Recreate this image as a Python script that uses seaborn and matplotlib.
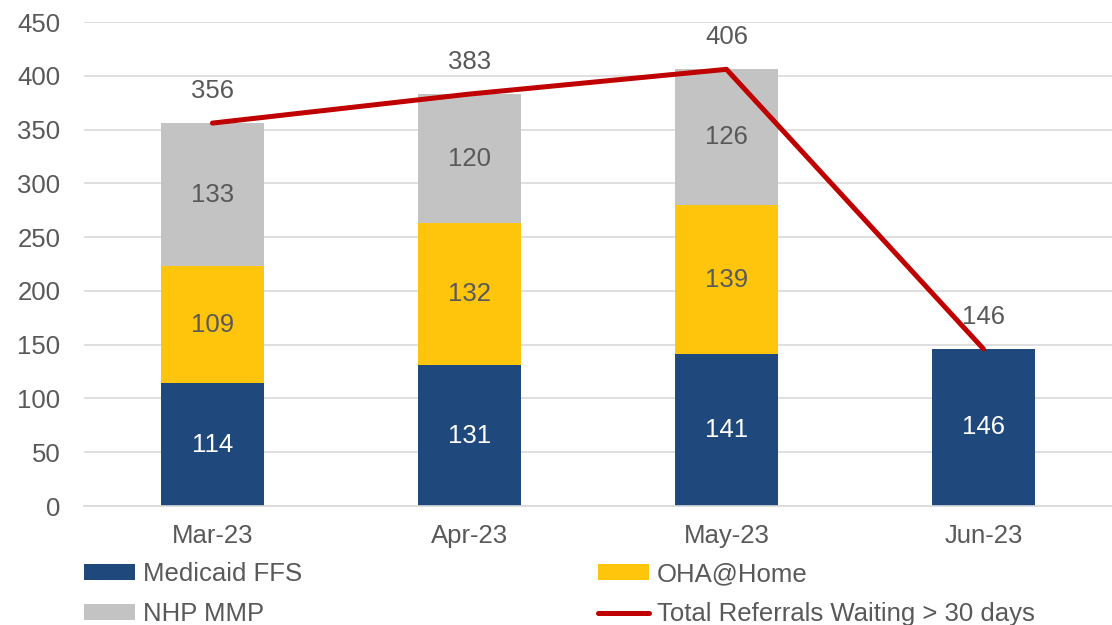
import matplotlib
matplotlib.use("Agg")
import matplotlib.pyplot as plt
import seaborn as sns
import pandas as pd
import numpy as np
from matplotlib.patches import Patch
from matplotlib.lines import Line2D

months = ["Mar-23", "Apr-23", "May-23", "Jun-23"]
medicaid_ffs = [114, 131, 141, 146]
oha_home = [109, 132, 139, 0]
nhp_mmp = [133, 120, 126, 0]
total = [356, 383, 406, 146]

C_NAVY = "#1F497D"
C_GOLD = "#FFC50D"
C_GRAY = "#C3C3C3"
C_RED = "#C00000"
C_TEXT = "#595959"

sns.set_theme(style="white")
plt.rcParams["font.family"] = ["Liberation Sans", "DejaVu Sans"]

df = pd.DataFrame({"month": months, "ffs": medicaid_ffs, "oha": oha_home,
                   "nhp": nhp_mmp, "total": total})
df["b2"] = df["ffs"]
df["b3"] = df["ffs"] + df["oha"]

fig = plt.figure(figsize=(11.12, 6.25), dpi=100)
ax = fig.add_axes([0.0755, 0.1904, 0.9245, 0.7744])

for col, bot, c in [("ffs", None, C_NAVY), ("oha", df["b2"], C_GOLD), ("nhp", df["b3"], C_GRAY)]:
    kw = {} if bot is None else {"bottom": bot}
    sns.barplot(data=df, x="month", y=col, color=c, width=0.4, ax=ax,
                saturation=1, zorder=2, linewidth=0, edgecolor="none", **kw)

xs = np.arange(len(months))
sns.lineplot(x=xs, y=df["total"], color=C_RED, linewidth=3.6, ax=ax, zorder=3)

fs = 18.5
for i in range(len(months)):
    f, o, n = medicaid_ffs[i], oha_home[i], nhp_mmp[i]
    ax.text(i, f / 2, str(f), ha="center", va="center", color="white", fontsize=fs, zorder=4)
    if o > 0:
        ax.text(i, f + o / 2, str(o), ha="center", va="center", color=C_TEXT, fontsize=fs, zorder=4)
    if n > 0:
        ax.text(i, f + o + n / 2, str(n), ha="center", va="center", color=C_TEXT, fontsize=fs, zorder=4)
    ax.text(i, total[i] + 30, str(total[i]), ha="center", va="center", color=C_TEXT,
            fontsize=fs, zorder=4)

ax.set_xlim(-0.5, 3.5)
ax.set_ylim(0, 450)
ax.set_yticks(range(0, 451, 50))
ax.yaxis.grid(True, color="#D9D9D9", linewidth=1.2, zorder=0)
ax.set_axisbelow(True)
ax.set_xlabel("")
ax.set_ylabel("")
for s in ["top", "right", "left"]:
    ax.spines[s].set_visible(False)
ax.spines["bottom"].set_color("#D9D9D9")
ax.spines["bottom"].set_linewidth(1.2)
ax.tick_params(axis="y", length=0, labelsize=fs, labelcolor=C_TEXT, pad=17)
ax.tick_params(axis="x", length=0, labelsize=fs, labelcolor=C_TEXT, pad=13)
ax.set_xticks(xs)
ax.set_xticklabels(months)
ax.set_xticks(np.arange(-0.5, 3.6, 1.0), minor=True)
ax.tick_params(axis="x", which="minor", length=8, color="#D9D9D9", width=1.2, direction="out")

handles = [Patch(facecolor=C_NAVY, edgecolor="none"),
           Patch(facecolor=C_GRAY, edgecolor="none"),
           Patch(facecolor=C_GOLD, edgecolor="none"),
           Line2D([0], [0], color=C_RED, linewidth=3.6, solid_capstyle="round")]
labels = ["Medicaid FFS", "NHP MMP", "OHA@Home", "Total Referrals Waiting > 30 days"]
leg = fig.legend(handles, labels, ncol=2, loc="upper left",
                 bbox_to_anchor=(0.0755, 0.101), frameon=False, fontsize=fs,
                 handlelength=2.0, handleheight=0.55, handletextpad=0.3,
                 columnspacing=11.5, labelspacing=0.63, borderaxespad=0, borderpad=0)
for t in leg.get_texts():
    t.set_color(C_TEXT)

fig.savefig("out.png", dpi=100)
